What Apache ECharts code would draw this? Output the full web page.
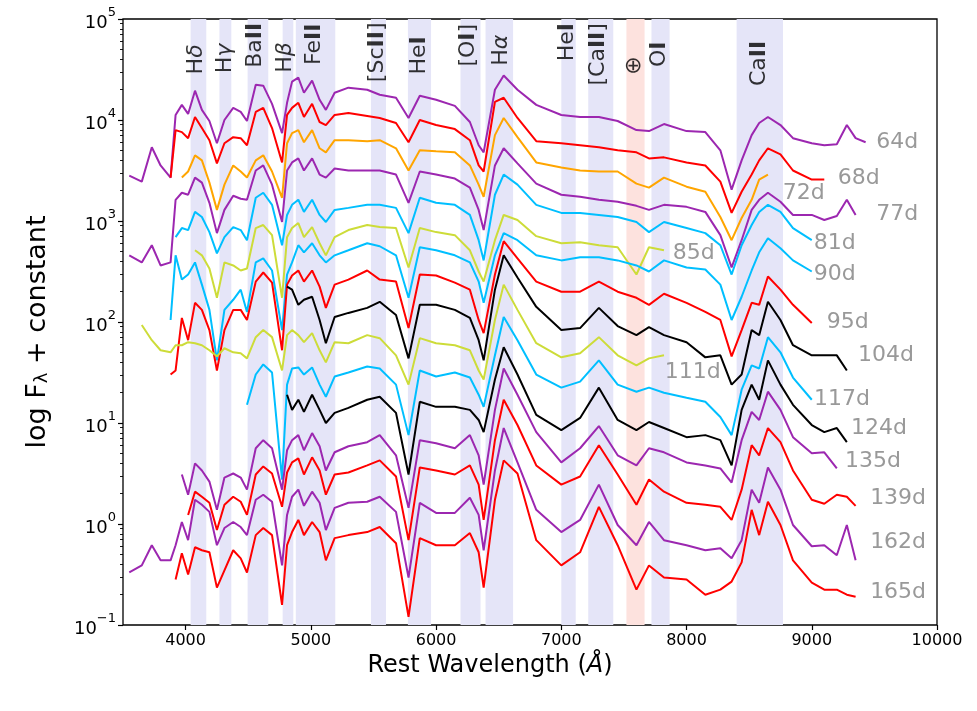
<!DOCTYPE html>
<html>
<head>
<meta charset="utf-8">
<script src="https://cdn.jsdelivr.net/npm/echarts@6/dist/echarts.min.js"></script>
<style>
  html, body { margin: 0; padding: 0; background: #fff; }
  #chart { width: 977px; height: 711px; }
</style>
</head>
<body>
<div id="chart"></div>
<script>
const _ = null

// shared wavelength grid (Angstrom)
const wave = [3550, 3650, 3730, 3800, 3880, 3920, 3970, 4020, 4075, 4130,
  4190, 4250, 4310, 4380, 4440, 4490, 4560, 4620, 4690, 4770,
  4810, 4850, 4900, 4945, 5010, 5070, 5120, 5190, 5300, 5450,
  5550, 5680, 5780, 5870, 6000, 6150, 6270, 6340, 6380, 6470,
  6540, 6650, 6800, 7000, 7150, 7300, 7450, 7600, 7700, 7820,
  8000, 8150, 8270, 8360, 8440, 8520, 8580, 8650, 8750, 8850,
  9000, 9100, 9200, 9280, 9350, 9430]

// log10 flux + constant, one list per epoch
const f64 = [3.45, 3.39, 3.73, 3.55, 3.43, 4.05, 4.15, 4.06, 4.29, 4.10,
  3.99, 3.77, 4.00, 4.12, 4.08, 3.99, 4.35, 4.34, 4.16, 3.87,
  4.17, 4.38, 4.42, 4.27, 4.39, 4.20, 4.10, 4.27, 4.32, 4.30,
  4.25, 4.22, 4.02, 4.24, 4.20, 4.14, 3.98, 3.75, 3.68, 4.30,
  4.44, 4.30, 4.15, 4.05, 4.03, 4.03, 3.99, 3.90, 3.89, 3.96,
  3.89, 3.88, 3.70, 3.31, 3.60, 3.85, 3.97, 4.03, 3.95, 3.82,
  3.77, 3.75, 3.76, 3.95, 3.82, 3.78]
const f68 = [_, _, _, _, 3.43, 3.90, 3.88, 3.82, 4.03, 3.92,
  3.80, 3.57, 3.77, 3.83, 3.82, 3.75, 4.08, 4.12, 3.92, 3.58,
  4.05, 4.12, 4.17, 4.03, 4.16, 3.98, 3.95, 4.05, 4.07, 4.04,
  4.02, 3.97, 3.78, 4.00, 3.95, 3.91, 3.80, 3.55, 3.49, 4.18,
  4.22, 4.02, 3.79, 3.77, 3.75, 3.73, 3.70, 3.68, 3.62, 3.63,
  3.58, 3.55, 3.39, 3.08, 3.29, 3.46, 3.60, 3.72, 3.66, 3.50,
  3.41, 3.41]
const f72 = [_, _, _, _, _, _, 3.43, 3.49, 3.65, 3.60,
  3.38, 3.11, 3.36, 3.55, 3.49, 3.43, 3.60, 3.65, 3.49, 3.23,
  3.77, 3.87, 3.90, 3.78, 3.90, 3.72, 3.68, 3.80, 3.80, 3.79,
  3.80, 3.72, 3.50, 3.70, 3.69, 3.68, 3.55, 3.36, 3.24, 3.85,
  4.02, 3.83, 3.58, 3.53, 3.50, 3.49, 3.49, 3.37, 3.33, 3.43,
  3.34, 3.29, 3.04, 2.81, 3.03, 3.21, 3.41, 3.46]
const f77 = [2.66, 2.59, 2.76, 2.56, 2.59, 3.21, 3.28, 3.26, 3.43, 3.38,
  3.18, 2.88, 3.11, 3.25, 3.22, 3.21, 3.50, 3.55, 3.36, 2.99,
  3.50, 3.58, 3.62, 3.50, 3.62, 3.46, 3.43, 3.52, 3.50, 3.50,
  3.50, 3.46, 3.18, 3.49, 3.46, 3.42, 3.33, 3.11, 2.91, 3.55,
  3.72, 3.57, 3.37, 3.26, 3.24, 3.21, 3.19, 3.15, 3.11, 3.16,
  3.14, 3.09, 2.86, 2.54, 2.81, 3.11, 3.21, 3.28, 3.19, 3.06,
  3.06, 3.01, 3.05, 3.21, 3.06]
const f81 = [_, _, _, _, _, 2.84, 2.93, 2.91, 3.09, 3.04,
  2.89, 2.68, 2.84, 2.94, 2.91, 2.81, 3.23, 3.28, 3.16, 2.76,
  3.06, 3.16, 3.21, 3.09, 3.21, 3.06, 2.99, 3.11, 3.13, 3.16,
  3.16, 3.13, 2.88, 3.23, 3.18, 3.16, 3.06, 2.81, 2.61, 3.26,
  3.46, 3.36, 3.16, 3.08, 3.08, 3.06, 3.04, 2.99, 2.89, 2.99,
  2.93, 2.88, 2.76, 2.47, 2.76, 2.96, 3.09, 3.16, 3.09, 2.93,
  2.81]
const f85 = [_, _, _, _, _, _, _, _, 2.71, 2.66,
  2.53, 2.24, 2.59, 2.56, 2.51, 2.53, 2.93, 2.96, 2.86, 2.24,
  2.84, 2.93, 2.98, 2.84, 2.94, 2.78, 2.66, 2.84, 2.91, 2.96,
  2.94, 2.93, 2.54, 2.93, 2.89, 2.86, 2.71, 2.50, 2.40, 2.81,
  3.06, 3.01, 2.85, 2.78, 2.79, 2.76, 2.74, 2.47, 2.74, 2.71]
const f90 = [_, _, _, _, 2.02, 2.66, 2.42, 2.47, 2.59, 2.37,
  2.12, 1.62, 2.12, 2.22, 2.32, 2.10, 2.59, 2.63, 2.51, 1.92,
  2.47, 2.59, 2.76, 2.69, 2.78, 2.66, 2.59, 2.66, 2.71, 2.78,
  2.75, 2.66, 2.24, 2.74, 2.71, 2.66, 2.59, 2.40, 2.19, 2.66,
  2.88, 2.81, 2.66, 2.61, 2.64, 2.64, 2.61, 2.56, 2.50, 2.61,
  2.54, 2.52, 2.37, 2.02, 2.25, 2.51, 2.69, 2.83, 2.73, 2.61,
  2.50]
const f95 = [_, _, _, _, 1.48, 1.52, 2.04, 1.82, 2.19, 2.12,
  1.92, 1.52, 1.92, 2.12, 2.12, 2.02, 2.40, 2.49, 2.39, 1.72,
  2.37, 2.46, 2.51, 2.40, 2.51, 2.35, 2.14, 2.37, 2.42, 2.51,
  2.42, 2.40, 1.94, 2.47, 2.46, 2.39, 2.32, 2.02, 1.89, 2.47,
  2.80, 2.63, 2.40, 2.30, 2.30, 2.40, 2.30, 2.24, 2.17, 2.28,
  2.19, 2.10, 2.02, 1.66, 1.92, 2.19, 2.17, 2.45, 2.32, 2.17,
  1.99]
const f104 = [_, _, _, _, _, _, _, _, _, _,
  _, _, _, _, _, _, _, _, _, _,
  2.35, 2.32, 2.17, 2.22, 2.25, 2.02, 1.79, 2.05, 2.09, 2.14,
  2.20, 2.07, 1.64, 2.17, 2.17, 2.12, 2.04, 1.82, 1.62, 2.32,
  2.66, 2.44, 2.15, 1.92, 1.94, 2.14, 1.96, 1.87, 1.95, 1.87,
  1.80, 1.65, 1.67, 1.38, 1.48, 1.92, 1.87, 2.20, 2.02, 1.77,
  1.67, 1.67, 1.67, 1.52]
const f111 = [_, 1.97, 1.82, 1.72, 1.70, 1.77, 1.77, 1.80, 1.79, 1.77,
  1.72, 1.66, 1.74, 1.70, 1.69, 1.64, 1.85, 1.92, 1.85, 1.52,
  1.87, 1.92, 1.87, 1.80, 1.89, 1.72, 1.60, 1.80, 1.79, 1.87,
  1.84, 1.67, 1.38, 1.84, 1.79, 1.77, 1.72, 1.52, 1.43, 2.02,
  2.37, 2.12, 1.79, 1.65, 1.69, 1.85, 1.67, 1.57, 1.64, 1.67]
const f117 = [_, _, _, _, _, _, _, _, _, _,
  _, _, _, _, _, 1.18, 1.48, 1.58, 1.50, 0.44,
  1.38, 1.54, 1.55, 1.48, 1.55, 1.38, 1.26, 1.46, 1.50, 1.56,
  1.54, 1.38, 0.88, 1.52, 1.46, 1.50, 1.45, 1.28, 1.16, 1.67,
  2.05, 1.82, 1.48, 1.35, 1.41, 1.62, 1.38, 1.31, 1.35, 1.30,
  1.25, 1.21, 1.06, 0.88, 1.33, 1.57, 1.54, 1.85, 1.70, 1.45,
  1.23]
const f124 = [_, _, _, _, _, _, _, _, _, _,
  _, _, _, _, _, _, _, _, _, _,
  1.28, 1.13, 1.23, 1.11, 1.28, 1.13, 1.00, 1.10, 1.15, 1.23,
  1.26, 1.10, 0.49, 1.21, 1.16, 1.16, 1.13, 1.03, 0.91, 1.43,
  1.75, 1.48, 1.08, 0.93, 1.05, 1.35, 1.03, 0.93, 1.01, 0.95,
  0.86, 0.88, 0.83, 0.58, 1.13, 1.38, 1.23, 1.62, 1.38, 1.18,
  0.98, 0.91, 0.95, 0.81]
const f135 = [_, _, _, _, _, _, 0.49, 0.29, 0.60, 0.53,
  0.42, 0.14, 0.46, 0.50, 0.46, 0.34, 0.75, 0.83, 0.75, 0.34,
  0.73, 0.83, 0.88, 0.73, 0.90, 0.77, 0.53, 0.71, 0.77, 0.81,
  0.88, 0.68, 0.16, 0.83, 0.80, 0.75, 0.88, 0.68, 0.39, 1.13,
  1.54, 1.28, 0.91, 0.61, 0.75, 0.97, 0.68, 0.58, 0.75, 0.71,
  0.61, 0.58, 0.55, 0.41, 0.83, 1.11, 1.03, 1.31, 1.13, 0.86,
  0.70, 0.71, 0.55]
const f139 = [_, _, _, _, _, _, _, 0.09, 0.32, 0.27,
  0.21, -0.06, 0.19, 0.27, 0.22, 0.09, 0.49, 0.57, 0.50, 0.17,
  0.51, 0.61, 0.65, 0.49, 0.66, 0.53, 0.29, 0.49, 0.51, 0.58,
  0.63, 0.47, -0.16, 0.56, 0.53, 0.49, 0.58, 0.39, 0.04, 0.83,
  1.23, 0.98, 0.58, 0.39, 0.47, 0.78, 0.49, 0.19, 0.44, 0.32,
  0.21, 0.19, 0.17, 0.04, 0.34, 0.78, 0.68, 0.95, 0.81, 0.53,
  0.24, 0.20, 0.29, 0.27, 0.18]
const f162 = [-0.48, -0.41, -0.21, -0.36, -0.36, -0.21, 0.02, -0.16, 0.24, 0.19,
  0.12, -0.21, -0.04, 0.02, -0.03, -0.11, 0.24, 0.29, 0.22, -0.41,
  0.09, 0.27, 0.34, 0.18, 0.32, 0.21, -0.06, 0.16, 0.21, 0.22,
  0.27, 0.12, -0.53, 0.21, 0.11, 0.11, 0.26, 0.09, -0.26, 0.53,
  0.95, 0.61, 0.14, -0.08, 0.04, 0.39, -0.01, -0.21, 0.02, -0.16,
  -0.21, -0.26, -0.24, -0.34, -0.16, 0.34, 0.21, 0.56, 0.34, -0.01,
  -0.22, -0.21, -0.31, -0.01, -0.36]
const f165 = [_, _, _, _, _, -0.55, -0.29, -0.50, -0.23, -0.26,
  -0.28, -0.63, -0.46, -0.26, -0.34, -0.48, -0.11, -0.04, -0.11, -0.80,
  -0.21, -0.08, 0.04, -0.11, 0.02, -0.08, -0.36, -0.14, -0.11, -0.08,
  -0.03, -0.19, -0.92, -0.14, -0.21, -0.21, -0.09, -0.28, -0.63, 0.24,
  0.63, 0.50, -0.16, -0.41, -0.28, 0.17, -0.21, -0.65, -0.41, -0.53,
  -0.55, -0.70, -0.65, -0.57, -0.38, 0.14, -0.11, 0.22, -0.01, -0.36,
  -0.58, -0.65, -0.65, -0.70, -0.72]

const dayNames = ['64d', '68d', '72d', '77d', '81d', '85d', '90d', '95d',
  '104d', '111d', '117d', '124d', '135d', '139d', '162d', '165d']
const fluxes = [f64, f68, f72, f77, f81, f85, f90, f95,
  f104, f111, f117, f124, f135, f139, f162, f165]
// where each epoch label sits (wavelength, log10 flux)
const dayLabelWave = [9514, 9208, 8768, 9514, 9016, 7890, 9016, 9120,
  9370, 7826, 9018, 9314, 9266, 9466, 9466, 9466]
const dayLabelLogF = [3.78, 3.42, 3.27, 3.07, 2.78, 2.68, 2.47, 2.00,
  1.67, 1.50, 1.23, 0.95, 0.62, 0.25, -0.18, -0.68]

// line identification bands
const bandNames = ['Hδ', 'Hγ', 'BaII', 'Hβ', 'FeII', '[ScII]', 'HeI', '[OI]',
  'Hα', 'HeI', '[CaII]', '⊕', 'OI', 'CaII']
const bandStart = [4040, 4270, 4495, 4775, 4880, 5480, 5775, 6195, 6395, 7000, 7215, 7520, 7720, 8400]
const bandEnd = [4165, 4365, 4660, 4860, 5195, 5600, 5960, 6355, 6615, 7115, 7415, 7665, 7865, 8770]
const bandLabelWave = [4086, 4314, 4558, 4794, 5026, 5530, 5862, 6254, 6522, 7046, 7298, 7582, 7782, 8578]
const bandLabelLogF = [4.60, 4.61, 4.74, 4.62, 4.75, 4.67, 4.64, 4.74, 4.69, 4.77, 4.65, 4.54, 4.65, 4.56]

const xTicks = [4000, 5000, 6000, 7000, 8000, 9000, 10000]
const yTicks = [0.1, 1, 10, 100, 1000, 10000, 100000]

const lineColors = ['#9c27b0', '#ff0000', '#ffa500', '#9c27b0', '#00bfff', '#cddc39', '#00bfff', '#ff0000',
  '#000000', '#cddc39', '#00bfff', '#000000', '#9c27b0', '#ff0000', '#9c27b0', '#ff0000']

const FONT = 'DejaVu Sans'

// minor ticks of the log axis: 2..9 x each decade
const yMinor = []
for (let e = -1; e < 5; e++) {
  for (let m = 2; m <= 9; m++) yMinor.push(m * Math.pow(10, e))
}

function toPoints(logF) {
  const pts = []
  logF.forEach((v, i) => {
    if (v !== null && v !== undefined) pts.push([wave[i], Math.pow(10, v)])
  })
  return pts
}

// roman numerals in bold, greek letters in italic
function richName(name) {
  let out = ''
  let cur = ''
  let curStyle = null
  for (const ch of name) {
    const st = ch === 'I' ? 'r' : ('αβγδ'.includes(ch) ? 'g' : 't')
    if (st !== curStyle && cur) {
      out += '{' + curStyle + '|' + cur + '}'
      cur = ''
    }
    curStyle = st
    cur += ch
  }
  if (cur) out += '{' + curStyle + '|' + cur + '}'
  return out
}

const chart = echarts.init(document.getElementById('chart'))

const spectraSeries = fluxes.map((f, i) => ({
  name: dayNames[i],
  type: 'line',
  data: toPoints(f),
  showSymbol: false,
  symbol: 'none',
  silent: true,
  z: 3,
  lineStyle: { width: 2, color: lineColors[i] },
  itemStyle: { color: lineColors[i] }
}))

const bandSeries = {
  name: 'bands',
  type: 'scatter',
  z: 1,
  silent: true,
  symbolSize: 1,
  itemStyle: { color: 'rgba(0,0,0,0)' },
  data: bandNames.map((n, i) => [bandLabelWave[i], Math.pow(10, bandLabelLogF[i]), n]),
  label: {
    show: true,
    position: 'inside',
    rotate: 90,
    align: 'center',
    verticalAlign: 'middle',
    color: '#000',
    textBorderWidth: 0,
    fontFamily: FONT,
    formatter: p => richName(p.data[2]),
    rich: {
      t: { fontSize: 22, color: '#000', fontFamily: FONT, textBorderWidth: 0 },
      r: { fontSize: 22, color: '#000', fontWeight: 'bold', fontFamily: FONT, textBorderWidth: 0 },
      g: { fontSize: 22, color: '#000', fontStyle: 'italic', fontFamily: FONT, textBorderWidth: 0 }
    }
  },
  markArea: {
    silent: true,
    data: bandStart.map((s, i) => [
      { xAxis: s, itemStyle: { color: bandNames[i] === '⊕' ? '#fde2de' : '#e5e5f8' } },
      { xAxis: bandEnd[i] }
    ])
  }
}

const daySeries = {
  name: 'days',
  type: 'scatter',
  z: 4,
  silent: true,
  symbolSize: 1,
  itemStyle: { color: 'rgba(0,0,0,0)' },
  data: dayNames.map((n, i) => [dayLabelWave[i], Math.pow(10, dayLabelLogF[i]), n]),
  label: {
    show: true,
    position: 'inside',
    align: 'left',
    verticalAlign: 'middle',
    formatter: p => p.data[2],
    fontSize: 22,
    color: '#808080',
    textBorderWidth: 0,
    fontFamily: FONT
  }
}

const option = {
  animation: false,
  backgroundColor: '#fff',
  textStyle: { fontFamily: FONT },
  grid: {
    left: 123, right: 40, top: 19, bottom: 86,
    show: true, borderColor: '#000', borderWidth: 1.3, backgroundColor: 'transparent'
  },
  xAxis: {
    type: 'value',
    min: 3500,
    max: 10000,
    name: '{a|Rest Wavelength (}{i|Å}{a|)}',
    nameLocation: 'middle',
    nameGap: 26,
    nameTextStyle: {
      fontSize: 24,
      fontFamily: FONT,
      color: '#000',
      padding: [0, 80, 0, 0],
      rich: {
        a: { fontSize: 24, color: '#000', fontFamily: FONT },
        i: { fontSize: 24, color: '#000', fontStyle: 'italic', fontFamily: FONT }
      }
    },
    axisLine: { show: false },
    splitLine: { show: false },
    axisTick: { show: true, customValues: xTicks, length: 5, lineStyle: { color: '#000', width: 1.2 } },
    axisLabel: {
      customValues: xTicks,
      fontSize: 16,
      fontFamily: FONT,
      color: '#000',
      margin: 8,
      formatter: v => String(v)
    }
  },
  yAxis: [
    {
      type: 'log',
      logBase: 10,
      min: 0.1,
      max: 100000,
      name: '{n|log F}{s|λ}{n| + constant}',
      nameLocation: 'middle',
      nameGap: 72,
      nameTextStyle: {
        fontSize: 27,
        fontFamily: FONT,
        color: '#000',
        padding: [0, 20, 0, 0],
        rich: {
          n: { fontSize: 27, color: '#000', fontFamily: FONT, verticalAlign: 'bottom', lineHeight: 34 },
          s: { fontSize: 18, color: '#000', fontFamily: FONT, verticalAlign: 'bottom', lineHeight: 26 }
        }
      },
      axisLine: { show: false },
      splitLine: { show: false },
      axisTick: { show: true, customValues: yTicks, length: 5, lineStyle: { color: '#000', width: 1.2 } },
      axisLabel: {
        customValues: yTicks,
        margin: 7,
        fontFamily: FONT,
        formatter: v => {
          const e = Math.round(Math.log10(v))
          return '{b|10}{s|' + (e < 0 ? '−' + (-e) : e) + '}'
        },
        rich: {
          b: { fontSize: 18, color: '#000', fontFamily: FONT, verticalAlign: 'bottom', lineHeight: 26 },
          s: { fontSize: 13, color: '#000', fontFamily: FONT, verticalAlign: 'top', lineHeight: 26 }
        }
      }
    },
    {
      type: 'log',
      logBase: 10,
      min: 0.1,
      max: 100000,
      position: 'left',
      axisLine: { show: false },
      splitLine: { show: false },
      axisLabel: { show: false },
      axisTick: { show: true, customValues: yMinor, length: 3, lineStyle: { color: '#000', width: 0.9 } }
    }
  ],
  series: [bandSeries, ...spectraSeries, daySeries]
}

chart.setOption(option)
</script>
</body>
</html>
